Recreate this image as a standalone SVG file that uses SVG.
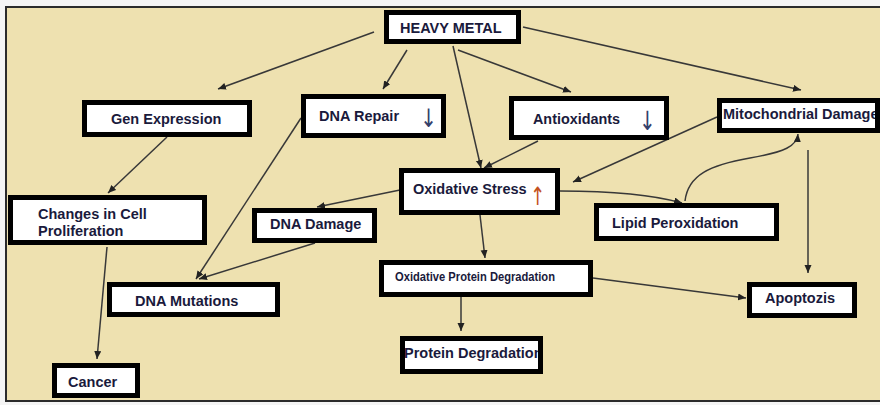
<svg xmlns="http://www.w3.org/2000/svg" width="880" height="405" viewBox="0 0 880 405">
<defs>
<style>
.box{fill:#ffffff;stroke:none}
.bd{fill:none;stroke:#000000;stroke-width:5}
.t{font-family:"Liberation Sans",Arial,sans-serif;font-weight:bold;font-size:14.5px;fill:#1a1a3c}
.ar{font-family:"DejaVu Sans",sans-serif;font-size:20px}
.c{fill:none;stroke:#383838;stroke-width:1.5}
</style>
<marker id="ah" markerUnits="userSpaceOnUse" markerWidth="9" markerHeight="8" refX="8" refY="3.5" orient="auto">
<path d="M0,0 L8,3.5 L0,7 z" fill="#222"/>
</marker>
</defs>
<rect x="0" y="0" width="880" height="405" fill="#f4f4f4"/>
<rect x="6" y="7" width="880" height="394" fill="#eee1b0" stroke="#2b2b2b" stroke-width="2"/>

<g id="connectors">
<path class="c" marker-end="url(#ah)" d="M374,32 L218,89"/>
<path class="c" marker-end="url(#ah)" d="M407,50 L383,89"/>
<path class="c" marker-end="url(#ah)" d="M453,46 L481,168"/>
<path class="c" marker-end="url(#ah)" d="M458,50 L571,92"/>
<path class="c" marker-end="url(#ah)" d="M523,27 L801,90"/>
<path class="c" marker-end="url(#ah)" d="M538,141 L484,168"/>
<path class="c" marker-end="url(#ah)" d="M717,117 L573,182"/>
<path class="c" marker-end="url(#ah)" d="M560,191 C600,191 650,194 682,203"/>
<path class="c" marker-end="url(#ah)" d="M685,201 C688,175 710,165 750,158 C785,152 797,146 798,134"/>
<path class="c" marker-end="url(#ah)" d="M808,150 L808,273"/>
<path class="c" marker-end="url(#ah)" d="M301,118 L196,279"/>
<path class="c" marker-end="url(#ah)" d="M315,243 L199,279"/>
<path class="c" marker-end="url(#ah)" d="M400,190 L317,207"/>
<path class="c" marker-end="url(#ah)" d="M167,137 L108,193"/>
<path class="c" marker-end="url(#ah)" d="M107,247 L97,359"/>
<path class="c" marker-end="url(#ah)" d="M480,215 L485,258"/>
<path class="c" marker-end="url(#ah)" d="M593,278 L746,298"/>
<path class="c" marker-end="url(#ah)" d="M461,297 L461,331"/>
</g>

<g id="heavy-metal">
<rect class="box" x="386.5" y="12.5" width="132" height="29"/>
<text class="t" x="400" y="33">HEAVY METAL</text>
<rect class="bd" x="386.5" y="12.5" width="132" height="29"/>
</g>
<g id="gen-expression">
<rect class="box" x="84.5" y="102.5" width="165" height="32"/>
<text class="t" x="111" y="124">Gen Expression</text>
<rect class="bd" x="84.5" y="102.5" width="165" height="32"/>
</g>
<g id="dna-repair">
<rect class="box" x="303.5" y="96.5" width="140" height="39"/>
<text class="t" x="319" y="121">DNA Repair</text>
<text class="ar" transform="translate(420,127) scale(1,1.27)" fill="#34406a">↓</text>
<rect class="bd" x="303.5" y="96.5" width="140" height="39"/>
</g>
<g id="antioxidants">
<rect class="box" x="511.5" y="98.5" width="155" height="39"/>
<text class="t" x="533" y="124" textLength="87" lengthAdjust="spacingAndGlyphs">Antioxidants</text>
<text class="ar" transform="translate(639,130) scale(1,1.33)" fill="#34406a">↓</text>
<rect class="bd" x="511.5" y="98.5" width="155" height="39"/>
</g>
<g id="mitochondrial-damage">
<rect class="box" x="719.5" y="100.5" width="158" height="30"/>
<text class="t" x="723" y="119">Mitochondrial Damage</text>
<rect class="bd" x="719.5" y="100.5" width="158" height="30"/>
</g>
<g id="oxidative-stress">
<rect class="box" x="401.5" y="170.5" width="156" height="42"/>
<text class="t" x="413" y="194">Oxidative Stress</text>
<text class="ar" transform="translate(530,205) scale(0.9,1.27)" fill="#c4521e">↑</text>
<rect class="bd" x="401.5" y="170.5" width="156" height="42"/>
</g>
<g id="changes-cell-proliferation">
<rect class="box" x="10.5" y="197.5" width="194" height="45"/>
<text class="t" x="38" y="219">Changes in Cell</text>
<text class="t" x="38" y="236">Proliferation</text>
<rect class="bd" x="10.5" y="197.5" width="194" height="45"/>
</g>
<g id="dna-damage">
<rect class="box" x="254.5" y="210.5" width="120" height="30"/>
<text class="t" x="270" y="229">DNA Damage</text>
<rect class="bd" x="254.5" y="210.5" width="120" height="30"/>
</g>
<g id="lipid-peroxidation">
<rect class="box" x="596.5" y="205.5" width="180" height="33"/>
<text class="t" x="612" y="228">Lipid Peroxidation</text>
<rect class="bd" x="596.5" y="205.5" width="180" height="33"/>
</g>
<g id="oxidative-protein-degradation">
<rect class="box" x="381.5" y="262.5" width="209" height="32"/>
<text class="t" x="395" y="281" style="font-size:12.5px" textLength="160" lengthAdjust="spacingAndGlyphs">Oxidative Protein Degradation</text>
<rect class="bd" x="381.5" y="262.5" width="209" height="32"/>
</g>
<g id="dna-mutations">
<rect class="box" x="109.5" y="284.5" width="168" height="30"/>
<text class="t" x="135" y="306">DNA Mutations</text>
<rect class="bd" x="109.5" y="284.5" width="168" height="30"/>
</g>
<g id="apoptozis">
<rect class="box" x="749.5" y="284.5" width="105" height="31"/>
<text class="t" x="765" y="303">Apoptozis</text>
<rect class="bd" x="749.5" y="284.5" width="105" height="31"/>
</g>
<g id="protein-degradation">
<rect class="box" x="402.5" y="338.5" width="138" height="33"/>
<text class="t" x="404" y="358">Protein Degradation</text>
<rect class="bd" x="402.5" y="338.5" width="138" height="33"/>
</g>
<g id="cancer">
<rect class="box" x="54.5" y="365.5" width="83" height="30"/>
<text class="t" x="68" y="387">Cancer</text>
<rect class="bd" x="54.5" y="365.5" width="83" height="30"/>
</g>
</svg>
